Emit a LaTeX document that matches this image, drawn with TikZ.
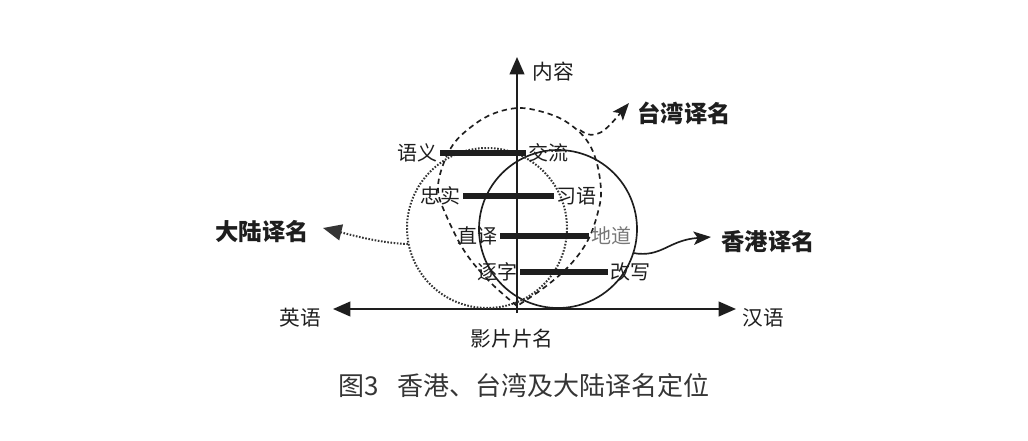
\documentclass[tikz,border=0pt]{standalone}
\usepackage{fontspec}
\setmainfont{Noto Sans CJK SC}
\usetikzlibrary{arrows.meta}
\definecolor{ink}{HTML}{1E1E1E}
\definecolor{lite}{HTML}{777777}
\tikzset{
  lbl/.style={font=\fontsize{15}{15}\selectfont, text=ink, inner sep=0pt, outer sep=2pt},
  big/.style={font=\fontsize{17.5}{17.5}\selectfont\bfseries, text=ink, inner sep=0pt},
  axislbl/.style={font=\fontsize{15.5}{15.5}\selectfont, text=ink, inner sep=0pt},
  axis/.style={draw=ink, line width=1.5pt, -{Triangle[length=13pt,width=11pt]}},
  bar/.style={draw=ink, line width=3.8pt},
  hkline/.style={draw=ink, line width=1.25pt},
  twline/.style={draw=ink, line width=1.25pt, dash pattern=on 4pt off 3pt},
  mlline/.style={draw=ink!90, line width=1.5pt, dash pattern=on 1.2pt off 1.2pt},
}
\begin{document}
\begin{tikzpicture}[x=0.75pt,y=-0.75pt]
\path[use as bounding box] (0,0) rectangle (1028,440);

% axes
\coordinate (O) at (517,309);
\coordinate (otop) at (517,57);
\coordinate (oleft) at (333,309);
\coordinate (oright) at (736,309);
\draw[axis] (517,313) -- (otop);
\draw[axis] (O) -- (oleft);
\draw[axis] (O) -- (oright);
\node[axislbl] (neirong) at (553,72) {内容};
\node[axislbl] (yingyu) at (300,318) {英语};
\node[axislbl] (hanyu) at (763,318) {汉语};
\node[axislbl] (pianming) at (512,339) {影片片名};

% Hong Kong circle (solid)
\draw[hkline] (558,229) circle[radius=79];
% Mainland circle (dotted)
\draw[mlline] (487,228) circle[radius=80];
% Taiwan shape (dashed)
\draw[twline] plot[smooth, tension=0.6] coordinates {
 (517,306) (490,282) (465,252) (446,215) (438,190) (443,165) (455,142)
 (475,124) (495,113) (519,108) (543,112) (565,121) (585,138) (596,160)
 (601,190) (598,212) (588,240) (570,265) (545,287) (517,306)};

% labels and bars
\node[lbl, anchor=east] (yuyi) at (440,153) {语义};
\node[lbl, anchor=west] (jiaoliu) at (526,153) {交流};
\node[lbl, anchor=east] (zhongshi) at (463,196) {忠实};
\node[lbl, anchor=west] (xiyu) at (554,196) {习语};
\node[lbl, anchor=east] (zhiyi) at (500,236) {直译};
\node[lbl, anchor=west, text=lite] (didao) at (589,236) {地道};
\node[lbl, anchor=east] (zhuzi) at (520,272) {逐字};
\node[lbl, anchor=west] (gaixie) at (608,272) {改写};
\draw[bar] (yuyi.east) -- (jiaoliu.west);
\draw[bar] (zhongshi.east) -- (xiyu.west);
\draw[bar] (zhiyi.east) -- (didao.west);
\draw[bar] (zhuzi.east) -- (gaixie.west);

% category labels
\node[big] (tw) at (684,113) {台湾译名};
\node[big] (ml) at (262,232) {大陆译名};
\node[big] (hk) at (768,242) {香港译名};

\coordinate (tw0) at (580,130);
\coordinate (tw1) at (629,103);
\draw[twline, -{Stealth[length=13pt,width=10pt,inset=3pt]}] (tw0) .. controls (596,142) and (606,130) .. (tw1);

\coordinate (ml0) at (408,244);
\coordinate (ml1) at (323,228);
\draw[mlline, -{Triangle[length=14pt,width=12pt]}] (ml0) .. controls (378,243) and (348,234) .. (ml1);

\coordinate (hk0) at (633,253);
\coordinate (hk1) at (711,237);
\draw[hkline, -{Stealth[length=13pt,width=10pt,inset=3pt]}] (hk0) .. controls (662,258) and (668,240) .. (hk1);

% caption
\node[font=\fontsize{19.5}{19.5}\selectfont, text=ink!90, inner sep=0pt] (caption) at (524,385) {图3\hspace{0.7em}香港、台湾及大陆译名定位};
\end{tikzpicture}
\end{document}
